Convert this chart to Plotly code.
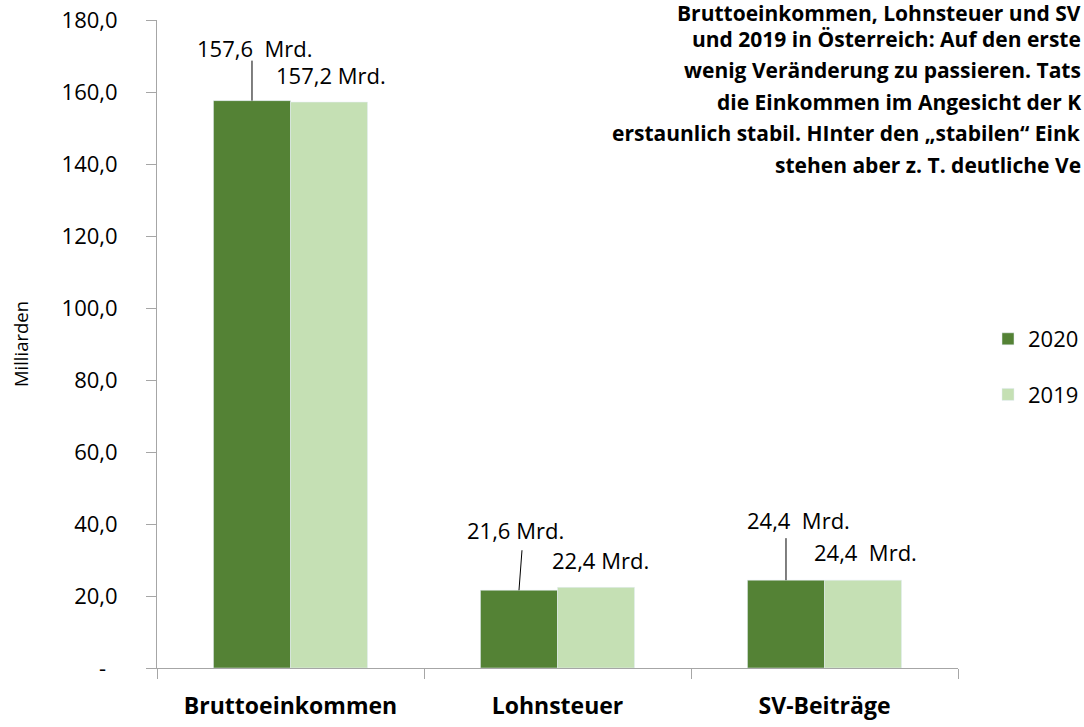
import plotly.graph_objects as go

categories = ["Bruttoeinkommen", "Lohnsteuer", "SV-Beiträge"]
values_2020 = [157.6, 21.6, 24.4]
values_2019 = [157.2, 22.4, 24.4]
labels_2020 = ["157,6\u00a0\u00a0Mrd.", "21,6 Mrd.", "24,4\u00a0\u00a0Mrd."]
labels_2019 = ["157,2 Mrd.", "22,4 Mrd.", "24,4\u00a0\u00a0Mrd."]
y_tickvals = [0, 20, 40, 60, 80, 100, 120, 140, 160, 180]
y_ticktext = ["-\u00a0\u00a0", "20,0", "40,0", "60,0", "80,0", "100,0", "120,0", "140,0", "160,0", "180,0"]
title_lines = [
    "Bruttoeinkommen, Lohnsteuer und SV",
    "und 2019 in Österreich: Auf den erste",
    "wenig Veränderung zu passieren. Tats",
    "die Einkommen im Angesicht der K",
    "erstaunlich stabil. HInter den „stabilen“ Eink",
    "stehen aber z. T. deutliche Ve",
]

DARK = "#548235"
LIGHT = "#C5E0B4"
LABEL_FONT = "Open Sans"
TICK_FONT = "Open Sans"

W, H = 1084, 727
ML, MR, MT, MB = 157, 126, 20, 59
PW, PH = W - ML - MR, H - MT - MB
BARGAP = 0.423
BW = (1 - BARGAP) / 2  # width of one bar in category units

fig = go.Figure()
fig.add_trace(go.Bar(x=categories, y=values_2020, name="2020", marker_color=DARK,
                     legendgroup="a", hoverinfo="skip"))
fig.add_trace(go.Bar(x=categories, y=values_2019, name="2019", marker_color=LIGHT,
                     legendgroup="b", hoverinfo="skip"))

# label offsets in pixels (style): (xshift, yshift) relative to bar top centre
off_2020 = [(3, 53), (-3, 60), (13, 60)]
off_2019 = [(2, 27), (4, 27), (2, 28)]
lead_len = [40, 40, 42]
lead_dx = [0, 3, 0]

annotations = []
shapes = []
for i, cat in enumerate(categories):
    x20 = i - BW / 2
    x19 = i + BW / 2
    annotations.append(dict(x=x20, y=values_2020[i], xref="x", yref="y", text=labels_2020[i],
                            showarrow=False, xshift=off_2020[i][0], yshift=off_2020[i][1],
                            font=dict(family=LABEL_FONT, size=22, color="#000")))
    annotations.append(dict(x=x19, y=values_2019[i], xref="x", yref="y", text=labels_2019[i],
                            showarrow=False, xshift=off_2019[i][0], yshift=off_2019[i][1],
                            font=dict(family=LABEL_FONT, size=22, color="#000")))
    shapes.append(dict(type="line", xref="x", yref="y", xsizemode="pixel", ysizemode="pixel",
                       xanchor=x20, yanchor=values_2020[i], x0=0, x1=lead_dx[i], y0=0, y1=lead_len[i],
                       line=dict(color="#000", width=1)))

# title lines (right aligned against the right edge, as in the source)
line_y_px = [13, 39, 70, 102, 133, 165]
for txt, ypx in zip(title_lines, line_y_px):
    annotations.append(dict(x=(W - ML - 1) / PW, y=(H - MB - ypx) / PH, xref="paper", yref="paper",
                            xanchor="right", yanchor="middle", text="<b>" + txt + "</b>",
                            showarrow=False, align="right",
                            font=dict(family=LABEL_FONT, size=21, color="#000")))

fig.update_layout(
    width=W, height=H,
    margin=dict(l=ML, r=MR, t=MT, b=MB, autoexpand=False),
    paper_bgcolor="white", plot_bgcolor="white",
    barmode="group", bargap=BARGAP, bargroupgap=0,
    showlegend=True,
    legend=dict(x=988 / W, y=1 - 318 / H, xref="container", yref="container",
                xanchor="left", yanchor="top",
                font=dict(family=TICK_FONT, size=22, color="#000"),
                tracegroupgap=24, bgcolor="rgba(0,0,0,0)"),
    annotations=annotations,
    shapes=shapes,
    xaxis=dict(
        type="category", showline=True, linecolor="#A6A6A6", linewidth=1,
        ticks="outside", tickson="boundaries", ticklen=10, tickcolor="#A6A6A6",
        tickfont=dict(family=LABEL_FONT, size=23, color="#000", weight="bold"),
        ticklabelstandoff=17, showgrid=False, zeroline=False, automargin=False,
    ),
    yaxis=dict(
        range=[0, 180], tickvals=y_tickvals, ticktext=y_ticktext,
        showline=True, linecolor="#A6A6A6", linewidth=1,
        ticks="outside", ticklen=10, tickcolor="#A6A6A6",
        tickfont=dict(family=TICK_FONT, size=22, color="#000"),
        ticklabelstandoff=24, showgrid=False, zeroline=False, automargin=False,
        title=dict(text="Milliarden", font=dict(family=TICK_FONT, size=18.5, color="#000"), standoff=28),
    ),
)

fig.write_html("out.html", config={"displayModeBar": False},
               post_script="document.body.style.margin='0';document.body.style.overflow='hidden';")
